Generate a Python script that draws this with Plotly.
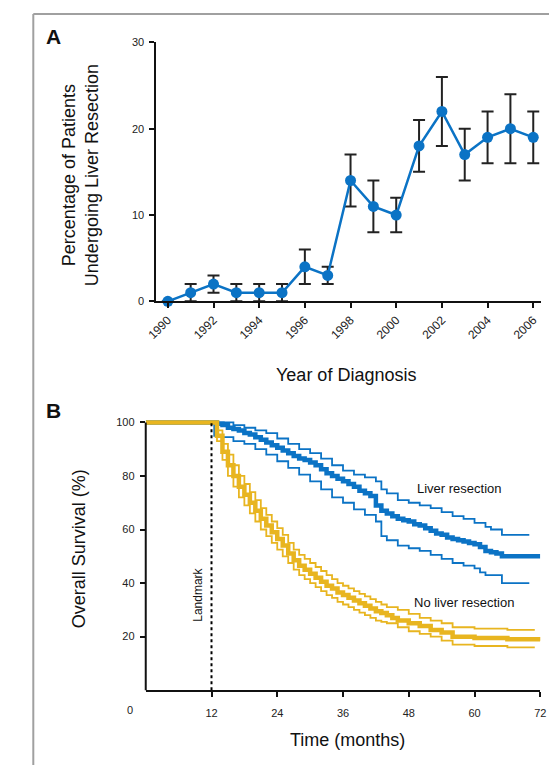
import plotly.graph_objects as go

# ---------------- Panel A data ----------------
years = [1990, 1991, 1992, 1993, 1994, 1995, 1996, 1997, 1998, 1999, 2000,
         2001, 2002, 2003, 2004, 2005, 2006]
pct_resection = [0, 1, 2, 1, 1, 1, 4, 3, 14, 11, 10, 18, 22, 17, 19, 20, 19]
ci_high = [0, 2, 3, 2, 2, 2, 6, 4, 17, 14, 12, 21, 26, 20, 22, 24, 22]
ci_low = [0, 0, 1, 0, 0, 0, 2, 2, 11, 8, 8, 15, 18, 14, 16, 16, 16]
year_ticks = [1990, 1992, 1994, 1996, 1998, 2000, 2002, 2004, 2006]

# ---------------- Panel B data (Kaplan-Meier steps) ----------------
res_t = [0, 12, 13, 14, 15, 16, 17, 18, 19, 20, 21, 22, 23, 24, 25, 26, 27, 28, 29,
         30, 31, 32, 33, 34, 35, 36, 37, 38, 39, 40, 41, 42, 43, 44, 45, 46, 47, 48,
         49, 50, 51, 52, 53, 54, 55, 56, 57, 58, 59, 60, 61, 62, 63, 64, 65, 72]
res_s = [100, 100, 99.5, 99, 98, 97.5, 97, 96, 95.5, 94.5, 93.5, 92.5, 91.5, 90.5,
         89.5, 88.5, 87.5, 86.5, 86, 85, 84, 82.5, 81, 80, 79, 78, 77, 76, 74.5, 73.5,
         72.5, 69, 67, 66, 65, 64, 63.5, 63, 62, 61.5, 60.5, 59.5, 58.5, 58, 57, 56.5,
         56, 55.5, 55, 54.5, 53.5, 52, 51.5, 51, 50, 50]
res_up_t = [12, 14, 16, 18, 20, 22, 24, 26, 28, 30, 32, 34, 36, 38, 40, 42, 43, 44,
            46, 48, 50, 52, 54, 56, 58, 60, 62, 63, 65, 70]
res_up_s = [100, 100, 99, 98, 97, 96, 94, 92, 90, 88.5, 86.5, 84, 82, 80.5, 79.5, 78,
            75, 73.5, 71, 70, 69, 68, 66.5, 65, 64, 62.5, 61, 60, 58, 58]
res_lo_t = [12, 12.5, 14, 16, 18, 20, 22, 24, 26, 28, 30, 32, 34, 36, 38, 40, 42, 43,
            44, 46, 48, 50, 52, 54, 56, 58, 60, 61, 62, 65, 70]
res_lo_s = [100, 95, 94.5, 93, 92, 90, 88, 85.5, 83, 80.5, 78, 75, 72, 70, 67.5, 65.5,
            63, 57.5, 56, 54, 53, 52, 50.5, 49, 47.5, 46.5, 45.5, 44, 43, 40, 40]

nores_t = [0, 12, 13, 14, 15, 16, 17, 18, 19, 20, 21, 22, 23, 24, 25, 26, 27, 28, 29,
           30, 31, 32, 33, 34, 35, 36, 37, 38, 39, 40, 41, 42, 43, 44, 45, 46, 48, 50,
           52, 54, 56, 60, 66, 72]
nores_s = [100, 100, 95, 89, 84, 80, 76, 73, 70, 67, 64, 61.5, 59, 56.5, 54, 51, 48.5,
           46.5, 45, 43.5, 42, 40.5, 39, 38, 36.5, 35.5, 34.5, 33.5, 32.5, 31.5, 30.5,
           29.5, 28.8, 28, 27, 26, 25, 24, 22.5, 21.5, 20, 19.5, 19, 18.5]
nores_up_t = [12, 13, 14, 15, 16, 17, 18, 19, 20, 21, 22, 23, 24, 25, 26, 27, 28, 29,
              30, 31, 32, 33, 34, 35, 36, 37, 38, 39, 40, 41, 42, 43, 44, 46, 48, 50,
              52, 54, 56, 60, 66, 71]
nores_up_s = [100, 97, 92, 88, 84, 80, 77, 74, 71, 68, 65.5, 63, 60.5, 58, 55, 52.5,
              50.5, 49, 47.5, 46, 44.5, 43, 41.5, 40, 39, 38, 37, 36, 35, 34, 33, 32, 31,
              30, 28.5, 27, 26, 25, 23.5, 23, 22.5, 22.5]
nores_lo_t = [12, 13, 14, 15, 16, 17, 18, 19, 20, 21, 22, 23, 24, 25, 26, 27, 28, 29,
              30, 31, 32, 33, 34, 35, 36, 37, 38, 39, 40, 41, 42, 43, 44, 46, 48, 50,
              52, 54, 56, 60, 66, 71]
nores_lo_s = [100, 93, 86, 80, 76, 72, 69, 66, 63, 60, 57.5, 55, 52.5, 50, 47.5, 45,
              43, 41.5, 40, 38.5, 37, 35.5, 34.5, 33, 32, 31, 30, 29, 28, 27, 26, 25.5,
              25, 23.5, 22, 21, 20, 18.5, 17, 16.5, 16, 16]
month_ticks = [12, 24, 36, 48, 60, 72]
surv_ticks = [20, 40, 60, 80, 100]

BLUE = "#0b73c5"
GOLD = "#e8b520"
FONT = "Liberation Sans, Arial, sans-serif"
W, H = 555, 771


def px(x):
    return x / W


def py(y):
    return 1 - y / H


fig = go.Figure()

# Panel A
err_plus = [h - v for h, v in zip(ci_high, pct_resection)]
err_minus = [v - l for v, l in zip(pct_resection, ci_low)]
fig.add_trace(go.Scatter(
    x=years, y=pct_resection, mode="lines+markers",
    line=dict(color=BLUE, width=2.5),
    marker=dict(color=BLUE, size=11),
    error_y=dict(type="data", array=err_plus, arrayminus=err_minus,
                 color="#222222", thickness=2, width=6),
    xaxis="x", yaxis="y", cliponaxis=False, showlegend=False))

# Panel B
for t, s, c, w in [
    (res_up_t, res_up_s, BLUE, 1.8), (res_lo_t, res_lo_s, BLUE, 1.8),
    (nores_up_t, nores_up_s, GOLD, 1.8), (nores_lo_t, nores_lo_s, GOLD, 1.8),
    (res_t, res_s, BLUE, 4.5), (nores_t, nores_s, GOLD, 4.5),
]:
    fig.add_trace(go.Scatter(x=t, y=s, mode="lines", line=dict(color=c, width=w, shape="hv"),
                             xaxis="x2", yaxis="y2", showlegend=False, cliponaxis=False))

# landmark line
fig.add_trace(go.Scatter(x=[12, 12], y=[0, 100], mode="lines",
                         line=dict(color="black", width=2, dash="dot"),
                         xaxis="x2", yaxis="y2", showlegend=False))

TICKFONT = dict(family=FONT, size=11, color="#222222")
axis_common = dict(showline=True, linecolor="#111111", linewidth=2, ticks="outside",
                   tickcolor="#111111", tickwidth=2, ticklen=5, showgrid=False,
                   zeroline=False, tickfont=TICKFONT)

Y2_TOP = 103  # extra headroom so the 100 % line is not clipped
y2_top_px = 695 - (695 - 423) * Y2_TOP / 100

fig.update_layout(
    width=W, height=H, margin=dict(l=0, r=0, t=0, b=0),
    paper_bgcolor="white", plot_bgcolor="white",
    font=dict(family=FONT, color="#111111"),
    xaxis=dict(domain=[px(150), px(547)], range=[1989.5, 2006.35], anchor="y",
               tickvals=year_ticks, ticktext=[str(v) for v in year_ticks],
               tickangle=-45, **{**axis_common, "tickfont": dict(family=FONT, size=12, color="#222222")}),
    yaxis=dict(domain=[py(300), py(37)], range=[0, 30], anchor="x",
               tickvals=[0, 10, 20, 30], ticklabelstandoff=3, **axis_common),
    xaxis2=dict(domain=[px(139), px(546)], range=[0, 72], anchor="y2",
                tickvals=month_ticks, ticklabelstandoff=7, **axis_common),
    yaxis2=dict(domain=[py(695), py(y2_top_px)], range=[0, Y2_TOP], anchor="x2",
                tickvals=surv_ticks, ticklabelstandoff=3,
                **{**axis_common, "showline": False}),
)

# y axis line of panel B, from 0 to 100 only
fig.add_shape(type="line", xref="paper", yref="paper", x0=px(139), x1=px(139),
              y0=py(695), y1=py(423), line=dict(color="#111111", width=2))

ann = [
    dict(x=px(44), y=py(31), text="<b>A</b>", font=dict(family=FONT, size=21)),
    dict(x=px(44), y=py(411), text="<b>B</b>", font=dict(family=FONT, size=21)),
    dict(x=px(71), y=py(172), text="Percentage of Patients<br>Undergoing Liver Resection",
         textangle=-90, font=dict(family=FONT, size=18)),
    dict(x=px(346), y=py(375), text="Year of Diagnosis", font=dict(family=FONT, size=18)),
    dict(x=px(71), y=py(551), text="Overall Survival (%)", textangle=-90,
         font=dict(family=FONT, size=18)),
    dict(x=px(347), y=py(746), text="Time (months)", font=dict(family=FONT, size=18)),
    dict(x=px(463), y=py(490), text="Liver resection", font=dict(family=FONT, size=13)),
    dict(x=px(467), y=py(606), text="No liver resection", font=dict(family=FONT, size=13)),
    dict(x=px(193), y=py(598), text="Landmark", textangle=-90,
         font=dict(family=FONT, size=12)),
    dict(x=px(123), y=py(715), text="0", font=TICKFONT),
]
for a in ann:
    fig.add_annotation(xref="paper", yref="paper", showarrow=False,
                       xanchor="center", yanchor="middle", **a)

# frame lines
fig.add_shape(type="line", xref="paper", yref="paper", x0=px(23), x1=px(23),
              y0=py(8), y1=0, line=dict(color="#a0a0a0", width=2))
fig.add_shape(type="line", xref="paper", yref="paper", x0=px(23), x1=1,
              y0=py(8), y1=py(8), line=dict(color="#a0a0a0", width=2))

fig.write_html("out.html", config={"displayModeBar": False},
               post_script="document.body.style.margin='0';document.body.style.overflow='hidden';")
